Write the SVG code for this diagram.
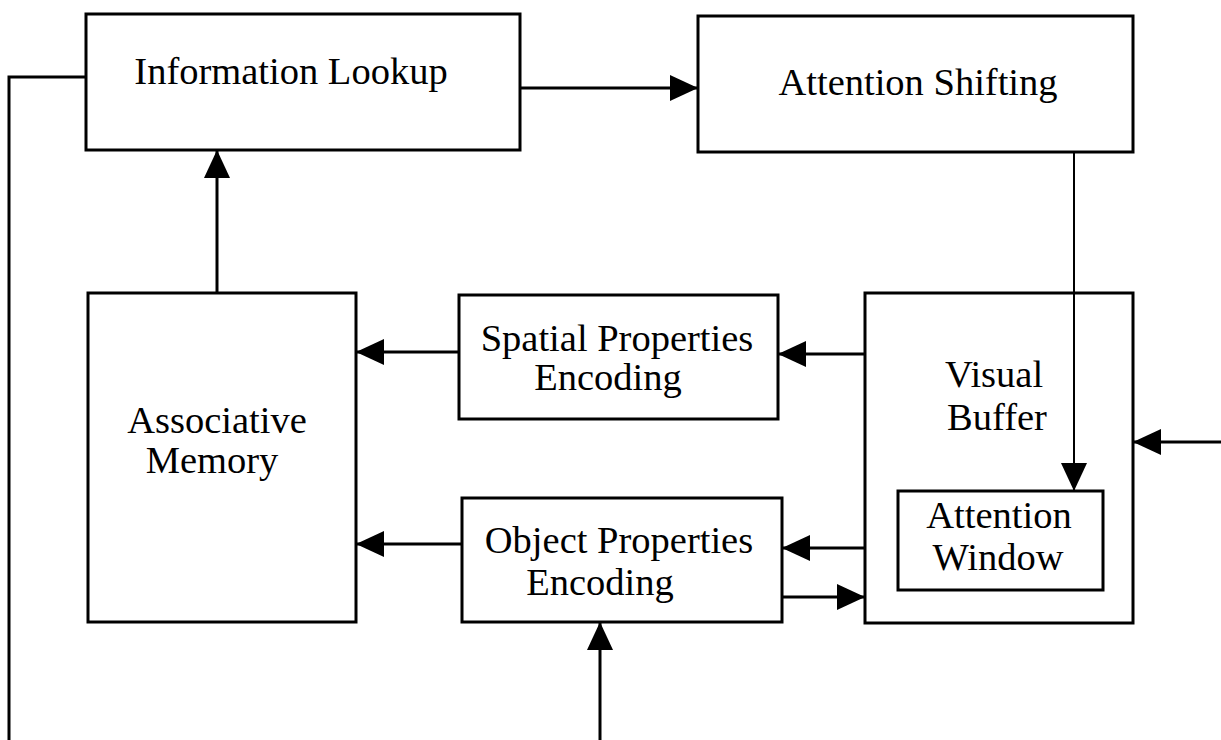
<svg xmlns="http://www.w3.org/2000/svg" width="1221" height="740" viewBox="0 0 1221 740">
<style>
.box{fill:#fff;stroke:#000;stroke-width:3}
.lbl{font-family:"Liberation Serif","Times New Roman",serif;font-size:38.5px;fill:#000;text-anchor:middle}
.conn{fill:none;stroke:#000;stroke-width:3}
</style>
<defs>
<marker id="ah" markerUnits="userSpaceOnUse" markerWidth="30" markerHeight="28" refX="28" refY="13" orient="auto">
<path d="M0,0 L28,13 L0,26 Z" fill="#000"/>
</marker>
</defs>
<rect width="1221" height="740" fill="#fff"/>
<g id="connectors">
<path class="conn" d="M86,77 H9 V740"/>
<path class="conn" d="M520,88 H698" marker-end="url(#ah)"/>
<path class="conn" d="M217,292 V150" marker-end="url(#ah)"/>
<path class="conn" d="M459,352 H356" marker-end="url(#ah)"/>
<path class="conn" d="M865,354 H778" marker-end="url(#ah)"/>
<path class="conn" d="M462,544 H356" marker-end="url(#ah)"/>
<path class="conn" d="M898,548 H782" marker-end="url(#ah)"/>
<path class="conn" d="M782,597 H865" marker-end="url(#ah)"/>
<path class="conn" d="M600,740 V622" marker-end="url(#ah)"/>
<path class="conn" d="M1221,442 H1133" marker-end="url(#ah)"/>
</g>
<g id="info-lookup">
<rect class="box" x="86" y="14" width="434" height="136"/>
<text class="lbl" x="291" y="84">Information Lookup</text>
</g>
<g id="attention-shifting">
<rect class="box" x="698" y="16" width="435" height="136"/>
<text class="lbl" x="918" y="95">Attention Shifting</text>
</g>
<g id="associative-memory">
<rect class="box" x="88" y="293" width="268" height="329"/>
<text class="lbl" x="217" y="433">Associative</text>
<text class="lbl" x="212" y="473">Memory</text>
</g>
<g id="spatial-properties">
<rect class="box" x="459" y="295" width="319" height="124"/>
<text class="lbl" x="617" y="351">Spatial Properties</text>
<text class="lbl" x="608" y="390">Encoding</text>
</g>
<g id="object-properties">
<rect class="box" x="462" y="498" width="320" height="124"/>
<text class="lbl" x="619" y="553">Object Properties</text>
<text class="lbl" x="600" y="595">Encoding</text>
</g>
<g id="visual-buffer">
<rect class="box" x="865" y="293" width="268" height="330"/>
<text class="lbl" x="994" y="387">Visual</text>
<text class="lbl" x="997" y="430">Buffer</text>
</g>
<g id="attention-window">
<rect class="box" x="898" y="491" width="205" height="99"/>
<text class="lbl" x="999" y="528">Attention</text>
<text class="lbl" x="998" y="570">Window</text>
</g>
<g id="shift-connector">
<path d="M1074,152 V491" fill="none" stroke="#000" stroke-width="2" marker-end="url(#ah)"/>
</g>
</svg>
